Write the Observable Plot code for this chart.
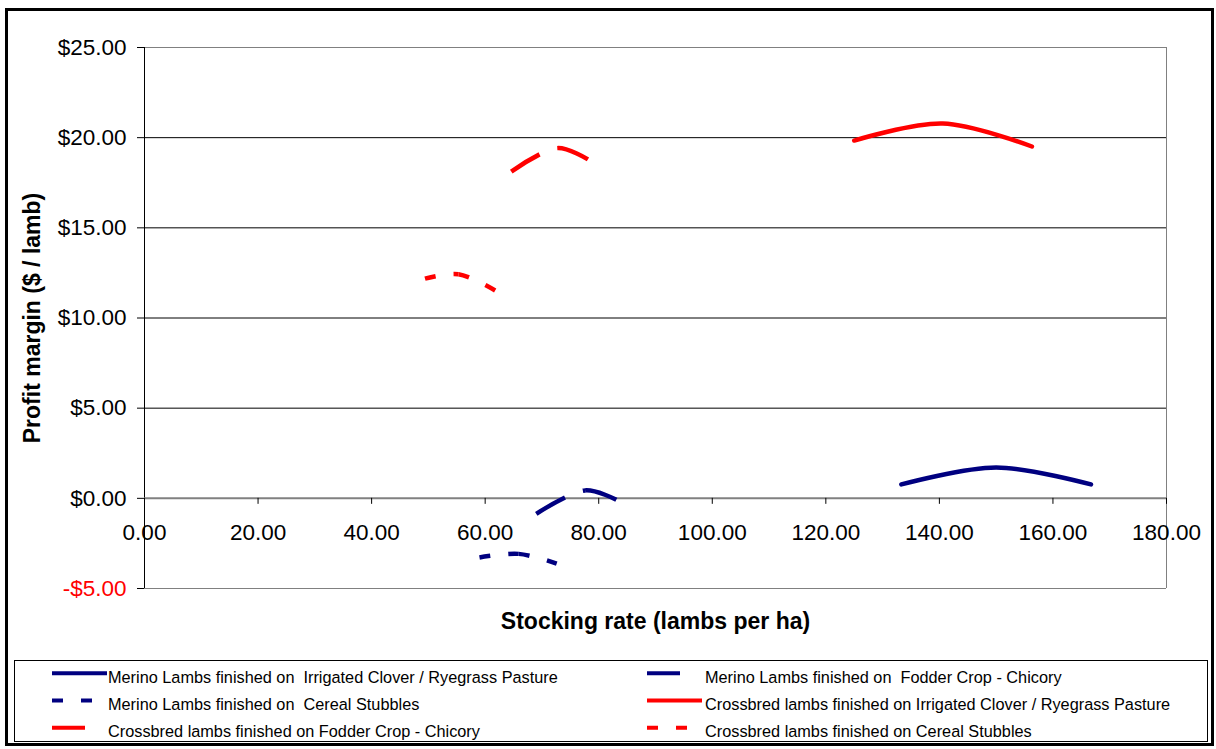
<!DOCTYPE html>
<html>
<head>
<meta charset="utf-8">
<script src="https://cdn.jsdelivr.net/npm/d3@7"></script>
<script src="https://cdn.jsdelivr.net/npm/@observablehq/plot@0.6"></script>
<style>
  body { margin: 0; background: #fff; }
  #chart { position: relative; width: 1216px; height: 749px; overflow: hidden;
           font-family: "Liberation Sans", Arial, sans-serif; background: #fff; }
  #frame { position: absolute; left: 5px; top: 8px; width: 1203px; height: 732px;
           border: 3px solid #000; }
  #chart svg { position: absolute; left: 0; top: 0; }
</style>
</head>
<body>
<div id="chart"><div id="frame"></div></div>
<script>
// Series names (legend order)
const seriesNames = [
  "Merino Lambs finished on  Irrigated Clover / Ryegrass Pasture",
  "Merino Lambs finished on  Fodder Crop - Chicory",
  "Merino Lambs finished on  Cereal Stubbles",
  "Crossbred lambs finished on Irrigated Clover / Ryegrass Pasture",
  "Crossbred lambs finished on Fodder Crop - Chicory",
  "Crossbred lambs finished on Cereal Stubbles"
];

// Stocking rate (lambs/ha) and profit margin ($/lamb) per series
const merinoIrrigatedX = [133.3, 150.0, 166.7];
const merinoIrrigatedY = [0.77, 1.71, 0.77];
const merinoChicoryX   = [69.0, 77.6, 83.1];
const merinoChicoryY   = [-0.86, 0.44, -0.08];
const merinoCerealX    = [59.0, 65.9, 72.6];
const merinoCerealY    = [-3.28, -3.08, -3.62];
const crossIrrigatedX  = [125.0, 140.6, 156.3];
const crossIrrigatedY  = [19.84, 20.78, 19.51];
const crossChicoryX    = [64.6, 72.7, 78.1];
const crossChicoryY    = [18.12, 19.42, 18.80];
const crossCerealX     = [49.4, 55.3, 61.8];
const crossCerealY     = [12.18, 12.43, 11.52];

// Axis ticks
const xTicks = [0, 20, 40, 60, 80, 100, 120, 140, 160, 180];
const yTicks = [-5, 0, 5, 10, 15, 20, 25];

const xTitle = "Stocking rate (lambs per ha)";
const yTitle = "Profit margin ($ / lamb)";

const NAVY = "#000080", RED = "#ff0000";
const SOLID = null, LONG_DASH = "33 19", SHORT_DASH = "11 18";

const rows = (xs, ys) => xs.map((x, i) => ({x, y: ys[i]}));

const seriesData = [
  {data: rows(merinoIrrigatedX, merinoIrrigatedY), stroke: NAVY, dash: SOLID},
  {data: rows(merinoChicoryX, merinoChicoryY),     stroke: NAVY, dash: LONG_DASH},
  {data: rows(merinoCerealX, merinoCerealY),       stroke: NAVY, dash: SHORT_DASH},
  {data: rows(crossIrrigatedX, crossIrrigatedY),   stroke: RED,  dash: SOLID},
  {data: rows(crossChicoryX, crossChicoryY),       stroke: RED,  dash: LONG_DASH},
  {data: rows(crossCerealX, crossCerealY),         stroke: RED,  dash: SHORT_DASH}
];

const money = d => (d < 0 ? "-$" : "$") + Math.abs(d).toFixed(2);
const FONT = "'Liberation Sans', Arial, sans-serif";

const plot = Plot.plot({
  width: 1216,
  height: 749,
  marginTop: 47,
  marginLeft: 144,
  marginRight: 50,
  marginBottom: 161,
  x: {domain: [0, 180], axis: null},
  y: {domain: [-5, 25], axis: null},
  style: {fontFamily: FONT, fontSize: "22px", background: "transparent", overflow: "visible", color: "#000"},
  marks: [
    // gridlines and plot-area border
    Plot.ruleY([5, 10, 15, 20], {stroke: "#000", strokeWidth: 1}),
    Plot.ruleY([25, -5], {stroke: "#808080", strokeWidth: 1}),
    Plot.ruleX([180], {stroke: "#808080", strokeWidth: 1}),
    // y axis line and tick marks
    Plot.ruleX([0], {stroke: "#000", strokeWidth: 1}),
    Plot.ruleY(yTicks, {x1: 0, x2: 0, insetLeft: -7, stroke: "#000", strokeWidth: 1}),
    // x axis along zero, with tick marks below it
    Plot.ruleY([0], {stroke: "#808080", strokeWidth: 2}),
    Plot.ruleX(xTicks, {y1: 0, y2: 0, insetBottom: -6, stroke: "#000", strokeWidth: 1}),
    // tick labels
    Plot.text(yTicks, {y: d => d, frameAnchor: "left", dx: -18, textAnchor: "end",
      text: money, fill: d => (d < 0 ? RED : "#000"), fontSize: 22.5}),
    Plot.text(xTicks, {x: d => d, y: 0, dy: 34, text: d => d.toFixed(2), fill: "#000", fontSize: 22.5}),
    // series curves
    ...seriesData.map(s => Plot.line(s.data, {
      x: "x", y: "y", curve: "catmull-rom",
      stroke: s.stroke, strokeWidth: 4.5,
      strokeDasharray: s.dash ?? undefined,
      strokeLinecap: s.dash ? "butt" : "round",
      className: s.dash ? "dashed-series" : undefined
    })),
    // axis titles
    Plot.text([yTitle], {frameAnchor: "left", dx: -112, rotate: -90, textAnchor: "middle",
      fontWeight: "bold", fontSize: 23, fill: "#000"}),
    Plot.text([xTitle], {frameAnchor: "bottom", dy: 40, textAnchor: "middle",
      fontWeight: "bold", fontSize: 23, fill: "#000"})
  ]
});

// Dash patterns restart at every data point: split each dashed curve
// into its per-interval Bézier pieces so each piece starts a fresh dash.
d3.select(plot).selectAll("g.dashed-series path").each(function() {
  const d = this.getAttribute("d");
  if (!d || d.indexOf("C") < 0) return;
  const start = d.slice(1, d.indexOf("C"));
  const pieces = d.slice(d.indexOf("C") + 1).split("C");
  let prev = start;
  const parent = this.parentNode;
  pieces.forEach(p => {
    const nums = p.split(/[ ,]+/).filter(s => s.length);
    const seg = this.cloneNode(false);
    seg.setAttribute("d", "M" + prev + "C" + p);
    parent.insertBefore(seg, this);
    prev = nums[nums.length - 2] + "," + nums[nums.length - 1];
  });
  parent.removeChild(this);
});

const chart = document.getElementById("chart");
chart.appendChild(plot);

// Legend panel below the plot
const legend = d3.select(chart).append("svg")
  .attr("width", 1216).attr("height", 749)
  .style("pointer-events", "none");

legend.append("rect")
  .attr("x", 14.5).attr("y", 660.5).attr("width", 1193).attr("height", 81)
  .attr("fill", "#fff").attr("stroke", "#000").attr("stroke-width", 1);

const legendRows = [673.3, 700.6, 727.7];
seriesData.forEach((s, i) => {
  const col = i % 2, row = Math.floor(i / 2);
  const x0 = 52 + col * 595;
  const yy = legendRows[row];
  const len = s.dash ? 52 : 55;
  legend.append("line")
    .attr("x1", x0).attr("x2", x0 + len)
    .attr("y1", yy).attr("y2", yy)
    .attr("stroke", s.stroke).attr("stroke-width", 4)
    .attr("stroke-dasharray", s.dash)
    .attr("stroke-linecap", "butt");
  legend.append("text")
    .attr("x", 108 + col * 597).attr("y", yy + 9.6)
    .attr("font-family", FONT).attr("font-size", 16.3)
    .attr("fill", "#000")
    .style("white-space", "pre")
    .text(seriesNames[i]);
});
</script>
</body>
</html>
